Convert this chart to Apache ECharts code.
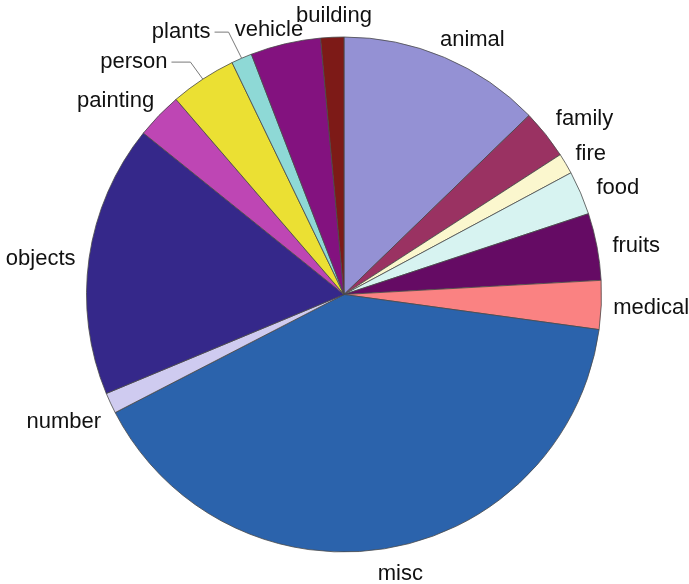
<!DOCTYPE html>
<html>
<head>
<meta charset="utf-8">
<script src="https://cdn.jsdelivr.net/npm/echarts@6/dist/echarts.min.js"></script>
<style>
  html, body { margin: 0; padding: 0; background: #ffffff; }
  #chart { width: 689px; height: 584px; }
</style>
</head>
<body>
<div id="chart"></div>
<script>
// Category shares (percent), clockwise from 12 o'clock
const categories = ['animal', 'family', 'fire', 'food', 'fruits', 'medical', 'misc',
                    'number', 'objects', 'painting', 'person', 'plants', 'vehicle', 'building'];
const shares = [12.75, 3.1, 1.3, 2.75, 4.2, 3.05, 40.2, 1.3, 17.05, 2.9, 4.15, 1.3, 4.4, 1.45];

const sliceColors = ['#9491d4', '#9a3262', '#fbf7ce', '#d7f3f1', '#650b64', '#fa8282', '#2b63ac',
                     '#cfcbf0', '#35288a', '#be46b4', '#ebe033', '#8ed9d6', '#83127f', '#7d1a17'];

// Pie geometry
const CX = 344, CY = 294.5, R = 257.5, GAP = 12, LABEL_DROP = 3.5;

// Fine offsets for label placement around the rim
const labelNudge = {
  animal: [10.5, 0.5], family: [7, -5], fire: [1.5, -2], food: [6.5, 0.5], fruits: [4, 0],
  medical: [0, -1.5], misc: [7, -0.5], number: [-2, 5.5], objects: [-2, 0], painting: [-7, -2.5],
  person: [-44, -1.3], plants: [-44, -8.5], vehicle: [-6, 5.5], building: [4, -2]
};
const withLeader = { person: 23, plants: 18 };

const total = shares.reduce((a, b) => a + b, 0);
const midAngle = [];
let acc = 0;
shares.forEach(v => { midAngle.push((acc + v / 2) / total * Math.PI * 2); acc += v; });

const data = categories.map((name, i) => ({
  name,
  value: shares[i],
  itemStyle: { color: sliceColors[i] },
  labelLine: { show: name in withLeader }
}));

const chart = echarts.init(document.getElementById('chart'), null, { renderer: 'canvas' });
chart.setOption({
  backgroundColor: '#ffffff',
  animation: false,
  series: [{
    type: 'pie',
    center: [CX, CY],
    radius: [0, R],
    startAngle: 90,
    clockwise: true,
    avoidLabelOverlap: false,
    data,
    itemStyle: { borderColor: '#4a4a4a', borderWidth: 0.8 },
    emphasis: { disabled: true },
    label: {
      show: true,
      position: 'outside',
      formatter: '{b}',
      fontFamily: 'Liberation Sans, Arial, sans-serif',
      fontSize: 22,
      color: '#111111'
    },
    labelLine: {
      show: false,
      lineStyle: { color: '#7a7a7a', width: 1 }
    },
    labelLayout(params) {
      const i = params.dataIndex;
      const name = categories[i];
      const a = midAngle[i];
      const sx = Math.sin(a), sy = -Math.cos(a);
      const w = params.labelRect.width, h = params.labelRect.height;
      const px = CX + sx * (R + GAP), py = CY + sy * (R + GAP);
      const n = labelNudge[name] || [0, 0];
      const x = px + sx * w / 2 + n[0];
      const y = py + sy * h / 2 + n[1] + LABEL_DROP;
      const out = { x, y, align: 'center', verticalAlign: 'middle' };
      if (name in withLeader) {
        const right = x + w / 2;
        out.labelLinePoints = [
          [CX + sx * R, CY + sy * R],
          [right + withLeader[name], y],
          [right + 4, y]
        ];
      }
      return out;
    }
  }]
});
</script>
</body>
</html>
